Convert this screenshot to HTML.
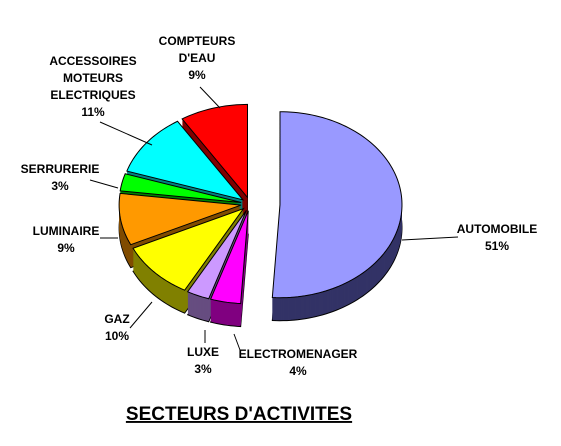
<!DOCTYPE html>
<html><head><meta charset="utf-8">
<style>
html,body{margin:0;padding:0;background:#fff;}
svg{display:block;}
text{font-family:"Liberation Sans",Arial,sans-serif;font-weight:bold;font-size:12px;fill:#000;}
</style></head>
<body>
<svg id="chart" width="561" height="446" viewBox="0 0 561 446" xmlns="http://www.w3.org/2000/svg">
<g id="slices"></g>
<g id="leaders" stroke="#000" stroke-width="1" fill="none"></g>
<g id="labels" text-anchor="middle"></g>
<text x="239" y="420" text-anchor="middle" style="font-size:19px;text-decoration:underline">SECTEURS D'ACTIVITES</text>
</svg>
<script>
const categories = ["AUTOMOBILE","ELECTROMENAGER","LUXE","GAZ","LUMINAIRE","SERRURERIE","ACCESSOIRES MOTEURS ELECTRIQUES","COMPTEURS D'EAU"];
const values = [51,4,3,10,9,3,11,9];
const labelLines = [["AUTOMOBILE"],["ELECTROMENAGER"],["LUXE"],["GAZ"],["LUMINAIRE"],["SERRURERIE"],["ACCESSOIRES","MOTEURS","ELECTRIQUES"],["COMPTEURS","D'EAU"]];

const topColors = ["#9999ff","#ff00ff","#cc99ff","#ffff00","#ff9900","#00ff00","#00ffff","#ff0000"];
const sideColors = ["#333366","#800080","#664d80","#808000","#804c00","#008000","#008080","#800000"];
const explode = [30,9,9,9,9,9,9,9];
const labelPos = [[497,233],[298,358],[203,356],[117,323],[66,235],[60,173],[93,65],[197,45]];
const leaderPts = [[[458,237],[402,240]],[[240,350],[234,334]],[[205,343],[205,330]],[[130,328],[152,302]],[[100,238],[118,238]],[[90,180],[118,188]],[[100,122],[152,145]],[[200,87],[220,108]]];

const NS="http://www.w3.org/2000/svg";
const cx=250, cy=204, rx=122, ry=93, depth=23;
const total = values.reduce((a,b)=>a+b,0);
function pt(ox,oy,th){return [ox+rx*Math.sin(th), oy-ry*Math.cos(th)];}
function slicePath(ox,oy,a0,a1){
  let d=`M${ox},${oy}`;
  const n=Math.max(2,Math.ceil((a1-a0)/0.03));
  for(let i=0;i<=n;i++){const p=pt(ox,oy,a0+(a1-a0)*i/n);d+=` L${p[0].toFixed(2)},${p[1].toFixed(2)}`;}
  return d+" Z";
}
const sl=[];let acc=0;
values.forEach((v,i)=>{const a0=acc/total*2*Math.PI;acc+=v;const a1=acc/total*2*Math.PI;sl.push({i,a0,a1,mid:(a0+a1)/2});});
const order=sl.slice().sort((a,b)=>(-Math.cos(a.mid))-(-Math.cos(b.mid)));
const gS=document.getElementById('slices');
order.forEach(s=>{
  const ox=cx+explode[s.i]*Math.sin(s.mid), oy=cy-explode[s.i]*0.76*Math.cos(s.mid);
  const g=document.createElementNS(NS,'g');
  
  
  const base=document.createElementNS(NS,'path');
  base.setAttribute('d',slicePath(ox,oy+depth,s.a0,s.a1));
  base.setAttribute('fill',sideColors[s.i]);base.setAttribute('stroke','#000');
  g.appendChild(base);
  for(let k=depth-1;k>0;k--){
    const p=document.createElementNS(NS,'path');
    p.setAttribute('d',slicePath(ox,oy+k,s.a0,s.a1));
    p.setAttribute('fill',sideColors[s.i]);
    g.appendChild(p);
  }
  const top=document.createElementNS(NS,'path');
  top.setAttribute('d',slicePath(ox,oy,s.a0,s.a1));
  top.setAttribute('fill',topColors[s.i]);top.setAttribute('stroke','#000');
  g.appendChild(top);
  gS.appendChild(g);
});
const gL=document.getElementById('leaders'), gT=document.getElementById('labels');
values.forEach((v,i)=>{
  const l=document.createElementNS(NS,'polyline');
  l.setAttribute('points',leaderPts[i].map(p=>p.join(',')).join(' '));
  
  
  gL.appendChild(l);
  const lines=labelLines[i].concat([v+'%']);
  const t=document.createElementNS(NS,'text');
  
  
  lines.forEach((ln,j)=>{
    const ts=document.createElementNS(NS,'tspan');
    ts.setAttribute('x',labelPos[i][0]);ts.setAttribute('y',labelPos[i][1]+j*17);
    ts.textContent=ln;t.appendChild(ts);
  });
  gT.appendChild(t);
});
</script>
</body></html>
